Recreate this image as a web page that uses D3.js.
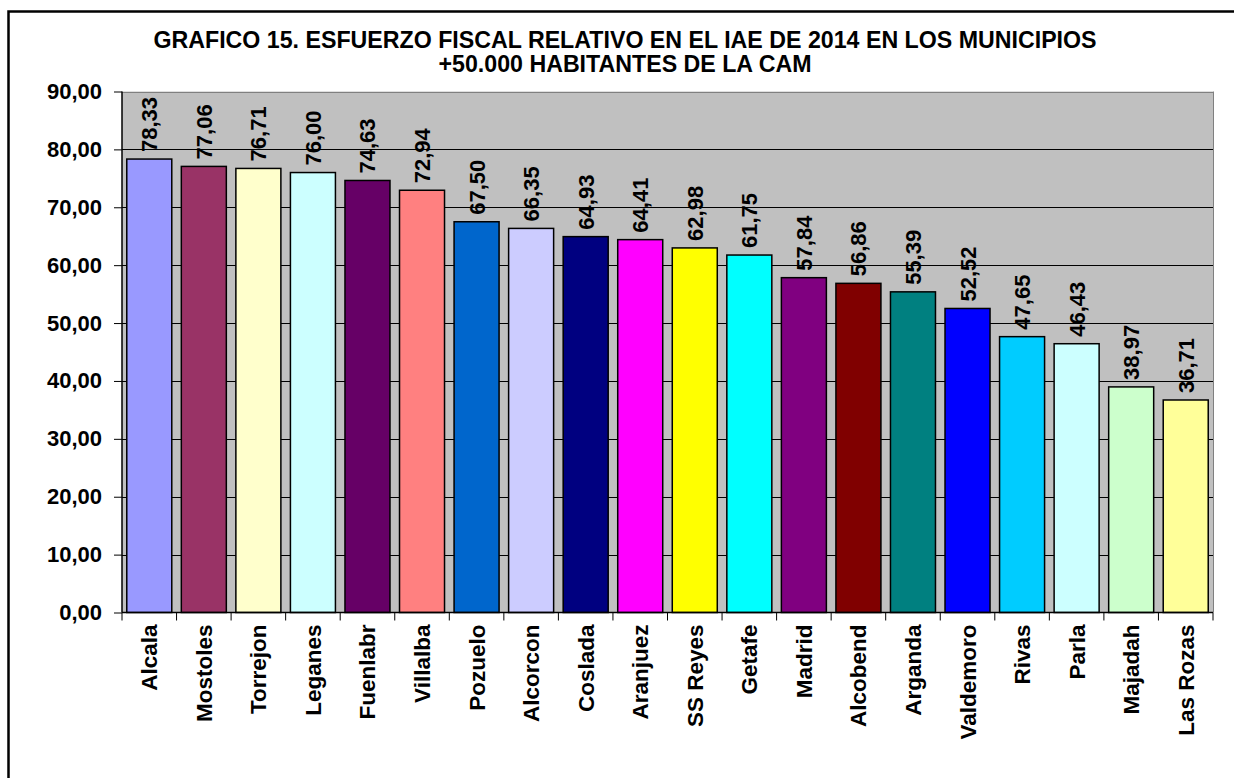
<!DOCTYPE html>
<html><head><meta charset="utf-8">
<script src="https://cdn.jsdelivr.net/npm/d3@7"></script>
<style>
html,body{margin:0;padding:0;background:#fff;}
text{font-family:Arial,"Liberation Sans",sans-serif;font-weight:bold;fill:#000;}
</style></head>
<body><svg id="c" width="1234" height="778"></svg>
<script>
const categories = ["Alcala","Mostoles","Torrejon","Leganes","Fuenlabr","Villalba","Pozuelo","Alcorcon","Coslada","Aranjuez","SS Reyes","Getafe","Madrid","Alcobend","Arganda","Valdemoro","Rivas","Parla","Majadah","Las Rozas"];
const values = [78.33,77.06,76.71,76.00,74.63,72.94,67.50,66.35,64.93,64.41,62.98,61.75,57.84,56.86,55.39,52.52,47.65,46.43,38.97,36.71];
const colors = ["#9999FF","#993366","#FFFFCC","#CCFFFF","#660066","#FF8080","#0066CC","#CCCCFF","#000080","#FF00FF","#FFFF00","#00FFFF","#800080","#800000","#008080","#0000FF","#00CCFF","#CCFFFF","#CCFFCC","#FFFF99"];
const yTicks = [0,10,20,30,40,50,60,70,80,90];
const titleLines = ["GRAFICO 15. ESFUERZO FISCAL RELATIVO EN EL IAE DE 2014 EN LOS MUNICIPIOS","+50.000 HABITANTES DE LA CAM"];

const fmt = v => v.toFixed(2).replace(".", ",");
const svg = d3.select("#c");
const L = 122, R = 1213, T = 91.5, B = 612.5;

// outer border
svg.append("rect").attr("x",8.5).attr("y",11.5).attr("width",1240).attr("height",800)
  .attr("fill","#fff").attr("stroke","#000").attr("stroke-width",2.5);

// title
svg.append("g").selectAll("text").data(titleLines).join("text")
  .attr("x", 625).attr("y",(d,i)=>48+i*24).attr("text-anchor","middle")
  .attr("font-size","23.2px").text(d=>d);

const x = d3.scaleBand().domain(categories).range([L,R]).padding(0);
const y = d3.scaleLinear().domain([0,90]).range([B,T]);

// plot background
svg.append("rect").attr("x",L).attr("y",T).attr("width",R-L).attr("height",B-T).attr("fill","#C0C0C0");

// gridlines
svg.append("g").selectAll("line").data(yTicks.filter(t=>t>0)).join("line")
  .attr("x1",L).attr("x2",R).attr("y1",d=>Math.round(y(d))+0.5).attr("y2",d=>Math.round(y(d))+0.5)
  .attr("stroke", d=> d===90 ? "#808080" : "#000").attr("stroke-width",1);
// right border
svg.append("line").attr("x1",R+0.5).attr("x2",R+0.5).attr("y1",T).attr("y2",B).attr("stroke","#808080");

// bars
const bw = x.bandwidth()*0.825;
svg.append("g").selectAll("rect").data(categories).join("rect")
  .attr("x",(d)=>x(d)+(x.bandwidth()-bw)/2).attr("width",bw)
  .attr("y",(d,i)=>y(values[i])).attr("height",(d,i)=>B-y(values[i]))
  .attr("fill",(d,i)=>colors[i]).attr("stroke","#000").attr("stroke-width",1.5);

// y axis
const yAxis = d3.axisLeft(y).tickValues(yTicks).tickSize(8).tickPadding(12).tickFormat(fmt);
const gy = svg.append("g").attr("transform",`translate(${L},0)`).call(yAxis);
gy.select(".domain").attr("stroke","#000").attr("stroke-width",1.5).attr("d",`M0,${T}V${B}`);
gy.selectAll(".tick line").attr("stroke","#000");
gy.selectAll("text").attr("font-size","22px").attr("font-family","Arial, 'Liberation Sans', sans-serif").attr("font-weight","bold");

// x axis
svg.append("line").attr("x1",L).attr("x2",R).attr("y1",B).attr("y2",B).attr("stroke","#000").attr("stroke-width",1.5);
const bounds = categories.map(c=>x(c)).concat([R]);
svg.append("g").selectAll("line").data(bounds).join("line")
  .attr("x1",d=>d).attr("x2",d=>d).attr("y1",B).attr("y2",B+8).attr("stroke","#000");
svg.append("g").selectAll("text").data(categories).join("text")
  .attr("transform",d=>`translate(${x(d)+x.bandwidth()/2+8},${B+12}) rotate(-90)`)
  .attr("text-anchor","end").attr("font-size","22.5px").text(d=>d);

// value labels
svg.append("g").selectAll("text").data(categories).join("text")
  .attr("transform",(d,i)=>`translate(${x(d)+x.bandwidth()/2+8},${y(values[i])-7}) rotate(-90)`)
  .attr("text-anchor","start").attr("font-size","22px").text((d,i)=>fmt(values[i]));
</script></body></html>
